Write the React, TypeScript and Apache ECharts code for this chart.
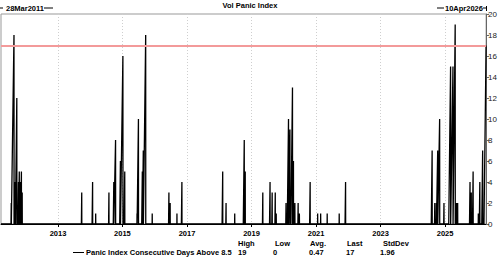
import React, { useEffect, useRef } from "react";
import * as echarts from "echarts";

const chartTitle = "Vol Panic Index";
const seriesName = "Panic Index Consecutive Days Above 8.5";
const startDate = "2011-03-28";
const endDate = "2026-04-10";
const startLabel = "28Mar2011";
const endLabel = "10Apr2026";

// Peak (last day) of each run of consecutive days above 8.5, and the run length
const peakDates = [
  "2011-07-22", "2011-08-22", "2011-09-06", "2011-09-23", "2011-10-12", "2011-10-21", "2011-11-04", "2011-11-14", "2011-11-23",
  "2013-09-27", "2014-01-28", "2014-03-04", "2014-08-01", "2014-09-25", "2014-10-15", "2014-12-09", "2015-01-06", "2015-01-27",
  "2015-06-15", "2015-07-01", "2015-08-14", "2015-08-25", "2015-09-21", "2015-12-04",
  "2016-06-10", "2016-06-24", "2016-09-09", "2016-11-04",
  "2018-02-09", "2018-03-19", "2018-06-25", "2018-10-11", "2018-10-22",
  "2019-05-09", "2019-07-30", "2019-08-23", "2019-09-27", "2019-10-08",
  "2020-01-27", "2020-02-24", "2020-03-11", "2020-04-09", "2020-04-20", "2020-05-06", "2020-06-12", "2020-06-26", "2020-10-26",
  "2021-01-19", "2021-02-22", "2021-05-07", "2021-09-20", "2021-12-01",
  "2024-08-07", "2024-09-06", "2024-09-24", "2024-10-09", "2024-10-31", "2024-12-19",
  "2025-03-04", "2025-03-31", "2025-04-25", "2025-05-09", "2025-05-23", "2025-10-10", "2025-10-24", "2025-11-14",
  "2026-01-12", "2026-01-29", "2026-03-02", "2026-04-10",
];
const peakValues = [
  2, 18, 4, 12, 4, 5, 4, 5, 3,
  3, 4, 1, 3, 4, 8, 6, 16, 5,
  1, 10, 5, 7, 18, 1,
  3, 2, 1, 4,
  5, 2, 1, 8, 5,
  3, 4, 3, 3, 1,
  2, 10, 9, 13, 6, 2, 2, 1, 4,
  1, 1, 1, 1, 4,
  7, 2, 2, 7, 10, 2,
  15, 15, 19, 2, 2, 4, 3, 5,
  1, 4, 7, 17,
];

const yearTicks = [2013, 2015, 2017, 2019, 2021, 2023, 2025];
const yMin = 0;
const yMax = 20;
const yStep = 2;

const statLabels = ["High", "Low", "Avg.", "Last", "StdDev"];
const statValues = ["19", "0", "0.47", "17", "1.96"];

const DAY = 86400000;
const ts = (s: string) => {
  const [y, m, d] = s.split("-").map(Number);
  return Date.UTC(y, m - 1, d);
};

function buildSeries(): [number, number][] {
  const out: [number, number][] = [[ts(startDate), 0]];
  let lastT = ts(startDate);
  peakDates.forEach((d, i) => {
    const v = peakValues[i];
    const peak = ts(d);
    // a run of v trading days ≈ v * 7/5 calendar days
    let rampStart = peak - Math.round((v * 7) / 5) * DAY;
    if (rampStart <= lastT) rampStart = lastT + DAY;
    out.push([rampStart, 0]);
    out.push([peak, v]);
    lastT = peak;
    if (i < peakDates.length - 1) {
      out.push([peak + DAY, 0]);
      lastT = peak + DAY;
    }
  });
  return out;
}

const FONT = '"Liberation Sans", Arial, sans-serif';

export default function App() {
  const ref = useRef<HTMLDivElement>(null);
  useEffect(() => {
    if (!ref.current) return;
    const chart = echarts.init(ref.current, null, { renderer: "svg" });
    const data = buildSeries();
    const lastValue = peakValues[peakValues.length - 1];
    const yearVals = yearTicks.map((y) => Date.UTC(y, 0, 1));
    const statX = [238, 273, 309, 346, 380];
    const statHeaderX = [238, 275, 310, 347, 383];

    const txt = (text: string, x: number, y: number, size = 7.5, align = "left", weight = "bold") => ({
      type: "text",
      x,
      y,
      silent: true,
      style: {
        text,
        fill: "#000",
        fontSize: size,
        fontWeight: weight,
        fontFamily: FONT,
        align,
        verticalAlign: "middle",
      },
    });
    const ln = (x1: number, y1: number, x2: number, y2: number, color = "#000") => ({
      type: "line",
      silent: true,
      shape: { x1, y1, x2, y2 },
      style: { stroke: color, lineWidth: 1 },
    });

    chart.setOption({
      animation: false,
      backgroundColor: "#fff",
      title: {
        text: chartTitle,
        left: "center",
        top: 0,
        textStyle: { fontSize: 7.5, fontWeight: "bold", color: "#000", fontFamily: FONT },
        padding: [1, 0, 0, 0],
      },
      grid: {
        left: 1,
        right: 13,
        top: 14,
        bottom: 34,
        show: true,
        borderColor: "#999",
        borderWidth: 1,
        backgroundColor: "#fff",
      },
      xAxis: {
        type: "value",
        min: ts(startDate),
        max: ts(endDate),
        axisLine: { show: true, lineStyle: { color: "#000", width: 1 } },
        axisTick: { show: true, length: 3, customValues: yearVals, lineStyle: { color: "#000" } },
        axisLabel: {
          customValues: yearVals,
          formatter: (v: number) => String(new Date(v).getUTCFullYear()),
          fontSize: 7.5,
          fontWeight: "bold",
          color: "#000",
          fontFamily: FONT,
          margin: 5,
        },
        splitLine: { show: true, lineStyle: { color: "#cfcfcf", type: [1, 2], width: 1 } },
      },
      yAxis: {
        type: "value",
        position: "right",
        min: yMin,
        max: yMax,
        interval: yStep,
        axisLine: { show: true, lineStyle: { color: "#666", width: 1 } },
        axisTick: { show: true, length: 3, lineStyle: { color: "#666" } },
        axisLabel: { fontSize: 8, color: "#222", fontFamily: FONT, margin: 2 },
        splitLine: { show: false },
      },
      series: [
        {
          name: seriesName,
          type: "line",
          data,
          showSymbol: false,
          symbol: "none",
          lineStyle: { color: "#000", width: 1.3 },
          itemStyle: { color: "#000" },
          markLine: {
            silent: true,
            symbol: "none",
            label: { show: false },
            lineStyle: { color: "#f39a9a", width: 2, type: "solid" },
            data: [{ yAxis: lastValue }],
          },
        },
      ],
      graphic: [
        ln(-2, 8, 3, 8),
        txt(startLabel, 6, 8),
        ln(44, 8, 53, 8),
        ln(437, 8, 444, 8),
        txt(endLabel, 445, 8),
        ln(483, 8, 486, 8),
        ln(486.5, 6, 486.5, 11),
        ln(73, 252.5, 84, 252.5),
        txt(seriesName, 86, 252.5),
        ...statLabels.map((s, i) => txt(s, statHeaderX[i], 243.5)),
        ...statValues.map((s, i) => txt(s, statX[i], 252.5)),
      ],
    });
    return () => chart.dispose();
  }, []);
  return (
    <div
      ref={ref}
      style={{ position: "fixed", left: 0, top: 0, width: 500, height: 258 }}
    />
  );
}
